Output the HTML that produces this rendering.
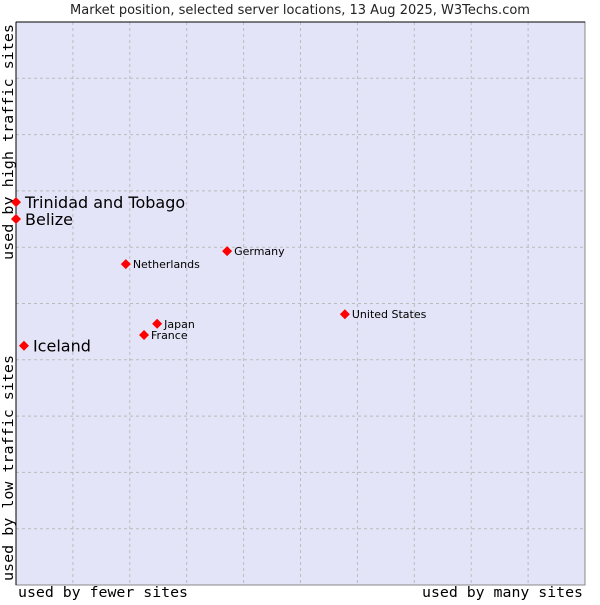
<!DOCTYPE html>
<html><head><meta charset="utf-8"><style>
body{margin:0;background:#fff;width:600px;height:600px;overflow:hidden}
svg text{font-family:"DejaVu Sans","Liberation Sans",sans-serif}
.mono{font-family:"DejaVu Sans Mono","Liberation Mono",monospace}
</style></head><body>
<svg id="chart" width="600" height="600">
<text x="300" y="14" font-size="13" text-anchor="middle" fill="#222">Market position, selected server locations, 13 Aug 2025, W3Techs.com</text>
<rect x="16" y="22" width="569" height="563" fill="#e4e4f8" stroke="#888"/>
<g id="grid"></g>
<line x1="16" y1="22" x2="585" y2="22" stroke="#000"/>
<line x1="16" y1="22" x2="16" y2="585" stroke="#000"/>
<text class="mono" x="18" y="597" font-size="14" textLength="170" lengthAdjust="spacingAndGlyphs" fill="#000">used by fewer sites</text>
<text class="mono" x="422" y="597" font-size="14" textLength="161" lengthAdjust="spacingAndGlyphs" fill="#000">used by many sites</text>
<text class="mono" transform="translate(13,581) rotate(-90)" font-size="14" textLength="226" lengthAdjust="spacingAndGlyphs" fill="#000">used by low traffic sites</text>
<text class="mono" transform="translate(13,260) rotate(-90)" font-size="14" textLength="236" lengthAdjust="spacingAndGlyphs" fill="#000">used by high traffic sites</text>
<g id="points"></g>
</svg>
<script>
const names=["Trinidad and Tobago","Belize","Iceland","Netherlands","Germany","United States","Japan","France"];
const xs=[0,0,0.14,1.93,3.71,5.78,2.48,2.25];
const ys=[6.80,6.50,4.25,5.70,5.93,4.81,4.64,4.44];
const big=[true,true,true,false,false,false,false,false];
const X0=16,X1=585,Y0=585,Y1=22;
const sx=v=>X0+v/10*(X1-X0);
const sy=v=>Y0-v/10*(Y0-Y1);
const NS="http://www.w3.org/2000/svg";
const grid=document.getElementById('grid');
for(let i=1;i<10;i++){
  const v=document.createElementNS(NS,'line');
  v.setAttribute('x1',sx(i));v.setAttribute('x2',sx(i));v.setAttribute('y1',Y1);v.setAttribute('y2',Y0);
  v.setAttribute('stroke','#bbb');v.setAttribute('stroke-dasharray','3,3');
  
  
  grid.appendChild(v);
  const h=document.createElementNS(NS,'line');
  h.setAttribute('y1',sy(i));h.setAttribute('y2',sy(i));h.setAttribute('x1',X0);h.setAttribute('x2',X1);
  h.setAttribute('stroke','#bbb');h.setAttribute('stroke-dasharray','3,3');
  
  
  grid.appendChild(h);
}
const pts=document.getElementById('points');
names.forEach((n,i)=>{
  const px=sx(xs[i]),py=sy(ys[i]);
  const d=document.createElementNS(NS,'path');
  d.setAttribute('d',`M${px} ${py-5}L${px+5} ${py}L${px} ${py+5}L${px-5} ${py}Z`);
  d.setAttribute('fill','#f00');
  
  
  pts.appendChild(d);
  const t=document.createElementNS(NS,'text');
  t.setAttribute('x',px+(big[i]?9:7));
  t.setAttribute('y',py+(big[i]?6:4));
  t.setAttribute('font-size',big[i]?16:11);
  t.setAttribute('fill','#000');
  t.textContent=n;
  
  
  pts.appendChild(t);
});
</script>
</body></html>
